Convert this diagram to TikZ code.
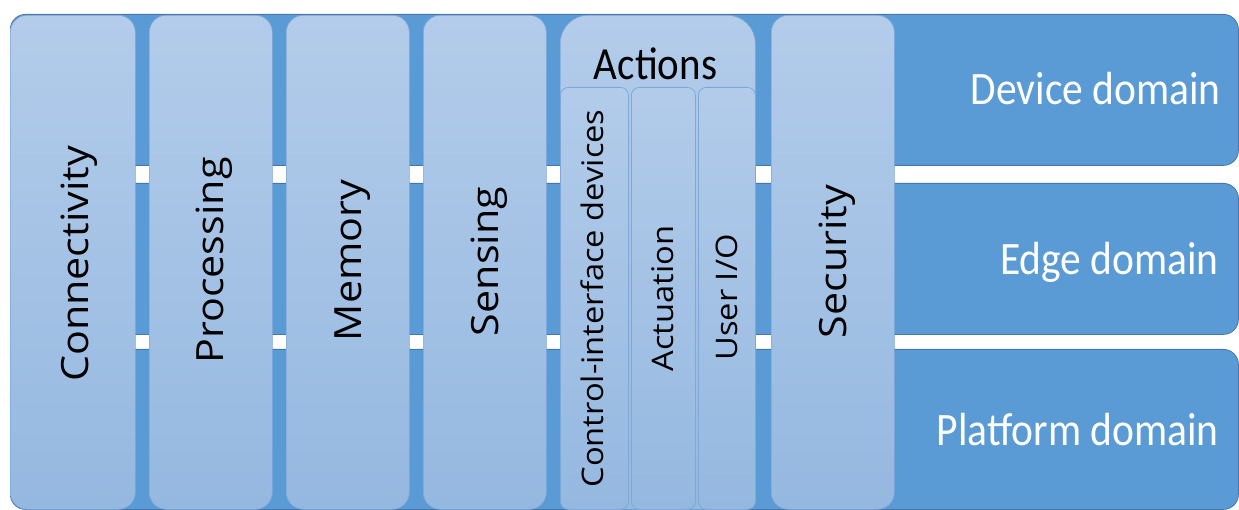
\documentclass[tikz,border=0pt]{standalone}
\usepackage{fontspec}
\setmainfont{Carlito}
\newfontfamily\osans{Open Sans}
\definecolor{bandfill}{HTML}{5B9BD5}
\definecolor{bandline}{HTML}{4677AD}
\definecolor{coltop}{HTML}{B3CCEA}
\definecolor{colbot}{HTML}{95B8E0}
\definecolor{colline}{HTML}{7FA8D8}
\begin{document}
\begin{tikzpicture}[x=1bp,y=-1bp,
  domband/.style={draw=bandline, line width=0.8bp, fill=bandfill, rounded corners=15bp,
    anchor=north west, inner sep=0pt, minimum width=1228bp},
  colbox/.style={draw=colline, line width=0.6bp, top color=coltop, bottom color=colbot,
    rounded corners=17bp, anchor=north west, inner sep=0pt, minimum height=494bp},
  subbox/.style={draw=colline, line width=0.8bp, top color=coltop!97!colbot, bottom color=colbot,
    rounded corners=8bp, anchor=north west, inner sep=0pt, minimum height=422bp},
  domlabel/.style={text=white, inner sep=0pt, font=\fontsize{41.5bp}{44bp}\selectfont, anchor=base east},
  collabel/.style={rotate=90, inner sep=0pt, anchor=base, font=\osans\fontsize{37.5bp}{40bp}\selectfont},
  sublabel/.style={rotate=90, inner sep=0pt, anchor=base, font=\osans\fontsize{29.7bp}{32bp}\selectfont}]
\useasboundingbox[fill=white] (0,0) rectangle (1239,510);
% domain bands
\node[domband, minimum height=151bp] (dev) at (10,14) {};
\node[domband, minimum height=151bp] (edge) at (10,183) {};
\node[domband, minimum height=160bp] (plat) at (10,349) {};
\node[domlabel] (devl) at (1221,105) {\scalebox{1}[1.12]{Device domain}};
\node[domlabel] (edgel) at (1219,275) {\scalebox{1}[1.12]{Edge domain}};
\node[domlabel] (platl) at (1219,445) {\scalebox{1}[1.12]{Platform domain}};
% columns
\node[colbox, minimum width=125bp] (conn) at (10,15) {};
\node[colbox, minimum width=123bp] (proc) at (149,15) {};
\node[colbox, minimum width=123bp] (mem) at (286,15) {};
\node[colbox, minimum width=123bp] (sens) at (423,15) {};
\node[colbox, minimum width=195bp, rounded corners=28bp] (act) at (560,15) {};
\node[colbox, minimum width=123bp] (sec) at (771,15) {};
\node[subbox, minimum width=68bp] (cid) at (560,87) {};
\node[subbox, minimum width=64bp] (actu) at (631,87) {};
\node[subbox, minimum width=57bp] (uio) at (698,87) {};
% labels
\node[collabel] (connl) at (88,264) {\scalebox{1.1}[1]{Connectivity}};
\node[collabel] (procl) at (223,260.5) {\scalebox{1.1}[1]{Processing}};
\node[collabel] (meml) at (361,260.5) {\scalebox{1.1}[1]{Memory}};
\node[collabel] (sensl) at (498,261.5) {\scalebox{1.1}[1]{Sensing}};
\node[collabel] (secl) at (846,261.5) {\scalebox{1.1}[1]{Security}};
\node[sublabel] (cidl) at (603,298.5) {\scalebox{1.1}[1]{Control-interface devices}};
\node[sublabel] (actul) at (673,298.5) {\scalebox{1.1}[1]{Actuation}};
\node[sublabel] (uiol) at (737,297.5) {\scalebox{1.1}[1]{User I/O}};
\node[inner sep=0pt, anchor=base, font=\fontsize{41bp}{44bp}\selectfont] (actl) at (655.5,80) {\scalebox{1}[1.12]{Actions}};
\end{tikzpicture}
\end{document}
